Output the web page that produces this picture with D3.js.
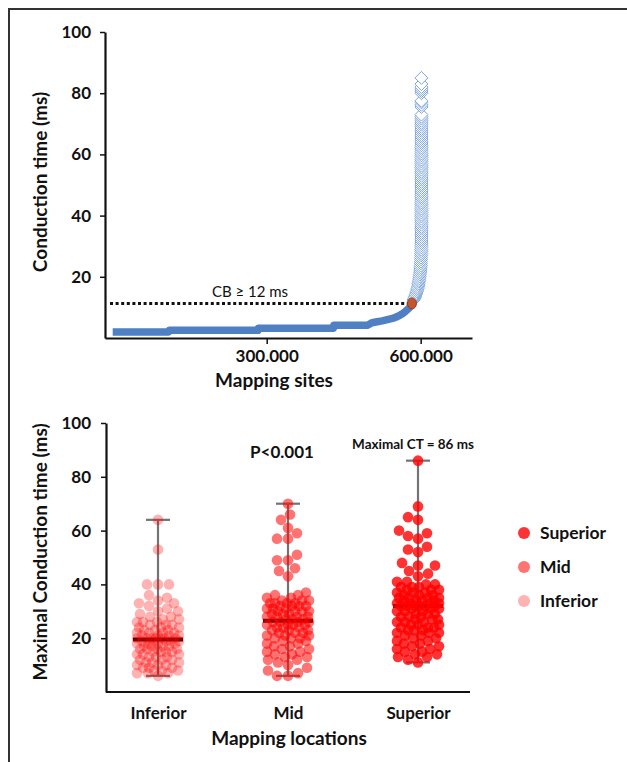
<!DOCTYPE html>
<html lang="en">
<head>
<meta charset="UTF-8" />
<title>Conduction time</title>
<script src="https://cdn.jsdelivr.net/npm/d3@7"></script>
<style>
  body { margin: 0; background: #fff; }
  svg text { font-family: Lato, "Open Sans", sans-serif; fill: #111; }
</style>
</head>
<body>
<div id="chart"></div>
<script>
// ---------- data: top panel (sites in thousands, conduction time in ms) ----------
const bandSiteK = [0, 109, 110, 283, 284, 430, 431, 497, 505, 515, 525, 535, 545, 553, 560, 566, 571, 575, 579, 582, 586];
const bandCT    = [2, 2, 2.5, 2.5, 3.2, 3.2, 4.2, 4.2, 5, 5.3, 5.6, 6, 6.4, 6.9, 7.5, 8.1, 8.8, 9.4, 10.1, 10.8, 12];
const bendSiteK = [586, 587.5, 588.5, 589.5, 590.5, 591.5, 592.5, 593.3, 594, 594.8, 595.5, 596, 596.5, 597, 597.5, 598, 598.5, 598.9, 599.2, 599.5, 599.8, 600.1, 600.3, 600.5, 600.7, 600.9, 601, 601.1, 601.2, 601.3, 601.4];
const bendCT    = [12.4, 12.8, 13.3, 13.7, 14.2, 14.7, 15.2, 15.7, 16.2, 16.7, 17.3, 17.8, 18.4, 18.9, 19.5, 20.1, 20.7, 21.3, 21.9, 22.5, 23.1, 23.7, 24.4, 25, 25.7, 26.3, 27, 27.6, 28.3, 28.9, 29.6];
const columnSiteK = 601.5;
const columnCT = [30.3, 31, 31.7, 32.3, 33, 33.7, 34.3, 35, 35.7, 36.3, 37, 37.7, 38.3, 39, 39.7, 40.3, 41, 41.7,
  42.3, 43, 43.7, 44.3, 45, 45.7, 46.3, 47, 47.7, 48.3, 49, 49.7, 50.3, 51, 51.7, 52.3, 53, 53.7, 54.3, 55,
  55.7, 56.3, 57, 57.7, 58.3, 59, 59.7, 60.3, 61, 61.7, 62.3, 63, 63.7, 64.3, 65, 65.7, 66.3, 67, 67.7,
  68.3, 69, 69.7, 70.3, 71, 71.7, 72.3, 73, 75.5, 76.2, 77, 77.5, 80, 80.7, 81.3, 82, 83, 85];
const cbSiteK = 583;
const cbLevel = 11.3;
const cbLabel = "CB \u2265 12 ms";
const topXTicks = [300000, 600000];
const topYTicks = [20, 40, 60, 80, 100];

// ---------- data: bottom panel ----------
const locations = ["Inferior", "Mid", "Superior"];
const inferiorCT = [64, 53, 40, 40, 40, 36, 35, 34, 33, 33, 32, 31, 30, 30, 29, 28, 28, 27, 27, 26, 26, 26,
  25, 25, 25, 24, 24, 24, 23, 23, 23, 22, 22, 22, 22, 21, 21, 21, 21, 20, 20, 20, 20, 20, 20, 20,
  19, 19, 19, 19, 19, 18, 18, 18, 18, 17, 17, 17, 17, 16, 16, 16, 16, 15, 15, 15, 15, 14, 14, 14,
  13, 13, 13, 12, 12, 12, 11, 11, 11, 10, 10, 10, 9, 9, 9, 8, 8, 8, 7, 7, 7, 6];
const midCT = [70, 66, 64, 61, 59, 57, 57, 51, 49, 49, 46, 45, 43, 37, 36, 36, 35, 35, 34, 34, 34,
  33, 33, 33, 33, 32, 32, 32, 32, 31, 31, 31, 30, 30, 30, 30, 29, 29, 29, 28, 28, 28, 28, 27, 27, 27,
  26, 26, 26, 26, 25, 25, 25, 25, 24, 24, 24, 23, 23, 23, 22, 22, 22, 21, 21, 21, 20, 20, 20, 19, 19,
  18, 18, 17, 17, 16, 16, 15, 15, 14, 14, 13, 13, 12, 12, 11, 10, 9, 8, 7, 6, 6];
const superiorCT = [86, 69, 65, 64, 60, 59, 58, 57, 54, 53, 52, 48, 47, 47, 45, 44, 43, 41, 41, 40, 40,
  39, 39, 39, 38, 38, 38, 37, 37, 37, 36, 36, 36, 35, 35, 35, 35, 34, 34, 34, 34, 33, 33, 33, 33,
  32, 32, 32, 32, 32, 32, 31, 31, 31, 30, 30, 30, 29, 29, 29, 28, 28, 28, 27, 27, 27, 26, 26, 26,
  25, 25, 25, 24, 24, 24, 23, 23, 23, 22, 22, 22, 21, 21, 20, 20, 19, 19, 18, 18, 17, 17, 16, 16,
  15, 15, 14, 14, 13, 13, 12, 11];
const bottomYTicks = [20, 40, 60, 80, 100];
const pLabel = "P<0.001";
const maxLabel = "Maximal CT = 86 ms";
const legendOrder = ["Superior", "Mid", "Inferior"];

const groups = { Inferior: inferiorCT, Mid: midCT, Superior: superiorCT };
const alpha = { Inferior: 0.3, Mid: 0.55, Superior: 0.8 };

// ---------- svg ----------
const W = 627, H = 762;
const svg = d3.select("#chart").append("svg").attr("width", W).attr("height", H);

// frame
svg.append("path").attr("d", "M9,762V9H627").attr("fill", "none")
  .attr("stroke", "#333").attr("stroke-width", 2);

// european style thousands: 300.000
const locale = d3.formatLocale({ decimal: ",", thousands: ".", grouping: [3], currency: ["", ""] });
const fmtThousands = locale.format(",.0f");

// ---------- top panel ----------
const xT = d3.scaleLinear().domain([-15000, 700000]).range([105, 472]);
const yT = d3.scaleLinear().domain([0, 100]).range([338, 32]);

// thick band (dense markers)
const band = bandSiteK.map((s, i) => [s * 1000, bandCT[i]]);
svg.append("path")
  .attr("d", d3.line().x(d => xT(d[0])).y(d => yT(d[1]))(band))
  .attr("fill", "none").attr("stroke", "#4e80c3").attr("stroke-width", 7.5)
  .attr("stroke-linejoin", "round");

// diamonds for the steep rise
const tail = bendSiteK.map((s, i) => [s * 1000, bendCT[i]])
  .concat(columnCT.map(c => [columnSiteK * 1000, c]));
const dm = 6.5;
svg.append("g").selectAll("path").data(tail).join("path")
  .attr("d", `M0,${-dm}L${dm},0L0,${dm}L${-dm},0Z`)
  .attr("transform", d => `translate(${xT(d[0])},${yT(d[1])})`)
  .attr("fill", "#fff").attr("stroke", "#6f9bd4").attr("stroke-width", 0.9);

// CB threshold dotted line and point
svg.append("line")
  .attr("x1", 110).attr("x2", xT(cbSiteK * 1000) - 3)
  .attr("y1", yT(cbLevel)).attr("y2", yT(cbLevel))
  .attr("stroke", "#111").attr("stroke-width", 3).attr("stroke-dasharray", "3,2.6");
svg.append("ellipse")
  .attr("cx", xT(cbSiteK * 1000)).attr("cy", yT(cbLevel))
  .attr("rx", 4.5).attr("ry", 5.5)
  .attr("fill", "#c4562e").attr("stroke", "#9a3b1c").attr("stroke-width", 1);
svg.append("text").attr("x", 250).attr("y", 297).attr("text-anchor", "middle")
  .style("font-size", "15px").text(cbLabel);

// axes
const gyT = svg.append("g").attr("transform", "translate(105,0)")
  .call(d3.axisLeft(yT).tickValues(topYTicks).tickSize(5).tickSizeOuter(0).tickPadding(9));
const gxT = svg.append("g").attr("transform", "translate(0,338)")
  .call(d3.axisBottom(xT).tickValues(topXTicks).tickFormat(fmtThousands)
    .tickSize(6).tickSizeOuter(0).tickPadding(6));

svg.append("text").attr("x", 274).attr("y", 387).attr("text-anchor", "middle")
  .style("font-size", "19px").style("font-weight", "bold").text("Mapping sites");
svg.append("text").attr("transform", "translate(47,182) rotate(-90)").attr("text-anchor", "middle")
  .style("font-size", "19px").style("font-weight", "bold").text("Conduction time (ms)");

// ---------- bottom panel ----------
const xB = d3.scalePoint().domain(locations).range([106, 470]).padding(0.4);
const yB = d3.scaleLinear().domain([0, 100]).range([692, 423]);
const r = 5.3;

// simple swarm layout in pixel space
function swarm(values, cx) {
  const placed = [];
  const sorted = values.slice().sort((a, b) => a - b);
  const maxOff = 21;
  sorted.forEach(v => {
    const y = yB(v);
    let best = null, bestD = -1;
    for (let k = 0; k <= 2 * maxOff; k++) {
      const off = (k % 2 === 0 ? 1 : -1) * Math.ceil(k / 2);
      let minD = Infinity;
      placed.forEach(p => {
        const d = Math.hypot(p.x - (cx + off), p.y - y);
        if (d < minD) minD = d;
      });
      if (minD >= 2 * r * 0.95) { best = off; bestD = Infinity; break; }
      if (minD > bestD) { bestD = minD; best = off; }
    }
    placed.push({ x: cx + best, y: y, v: v });
  });
  return placed;
}

locations.forEach(loc => {
  const vals = groups[loc];
  const cx = xB(loc);
  const lo = d3.min(vals), hi = d3.max(vals), med = d3.median(vals);
  const g = svg.append("g");
  // whisker min-max
  g.append("line").attr("x1", cx).attr("x2", cx).attr("y1", yB(lo)).attr("y2", yB(hi))
    .attr("stroke", "#737373").attr("stroke-width", 2.2);
  [lo, hi].forEach(v => g.append("line").attr("x1", cx - 12).attr("x2", cx + 12)
    .attr("y1", yB(v)).attr("y2", yB(v)).attr("stroke", "#737373").attr("stroke-width", 2.2));
  // median
  g.append("line").attr("x1", cx - 25).attr("x2", cx + 25).attr("y1", yB(med)).attr("y2", yB(med))
    .attr("stroke", "#000").attr("stroke-width", 4);
  // points
  g.selectAll("circle").data(swarm(vals, cx)).join("circle")
    .attr("cx", d => d.x).attr("cy", d => d.y).attr("r", r)
    .attr("fill", "#ff0000").attr("fill-opacity", alpha[loc]);
});

const gyB = svg.append("g").attr("transform", "translate(106,0)")
  .call(d3.axisLeft(yB).tickValues(bottomYTicks).tickSize(5).tickSizeOuter(0).tickPadding(10));
const gxB = svg.append("g").attr("transform", "translate(0,692)")
  .call(d3.axisBottom(xB).tickSize(0).tickPadding(15));
gxB.select(".domain").attr("d", "M106,0H470");

svg.append("text").attr("x", 289).attr("y", 745).attr("text-anchor", "middle")
  .style("font-size", "19px").style("font-weight", "bold").text("Mapping locations");
svg.append("text").attr("transform", "translate(47,552) rotate(-90)").attr("text-anchor", "middle")
  .style("font-size", "19px").style("font-weight", "bold").text("Maximal Conduction time (ms)");
svg.append("text").attr("x", xB("Mid") - 6).attr("y", 458).attr("text-anchor", "middle")
  .style("font-size", "17px").style("font-weight", "bold").text(pLabel);
svg.append("text").attr("x", xB("Superior") - 5).attr("y", 449).attr("text-anchor", "middle")
  .style("font-size", "13.5px").style("font-weight", "bold").text(maxLabel);

// legend
const leg = svg.append("g").selectAll("g").data(legendOrder).join("g")
  .attr("transform", (d, i) => `translate(524,${533 + i * 34})`);
leg.append("circle").attr("r", 6).attr("fill", "#ff0000").attr("fill-opacity", d => alpha[d]);
leg.append("text").attr("x", 16).attr("dy", "0.35em")
  .style("font-size", "17.5px").style("font-weight", "bold").text(d => d);

// common axis styling
[gyT, gxT, gyB, gxB].forEach(g => {
  g.select(".domain").attr("stroke", "#111").attr("stroke-width", 2.2);
  g.selectAll(".tick line").attr("stroke", "#111").attr("stroke-width", 1.5);
  g.selectAll(".tick text").style("font-family", "Lato, 'Open Sans', sans-serif")
    .style("font-size", "17px").style("font-weight", "bold").attr("fill", "#111");
});
</script>
</body>
</html>
